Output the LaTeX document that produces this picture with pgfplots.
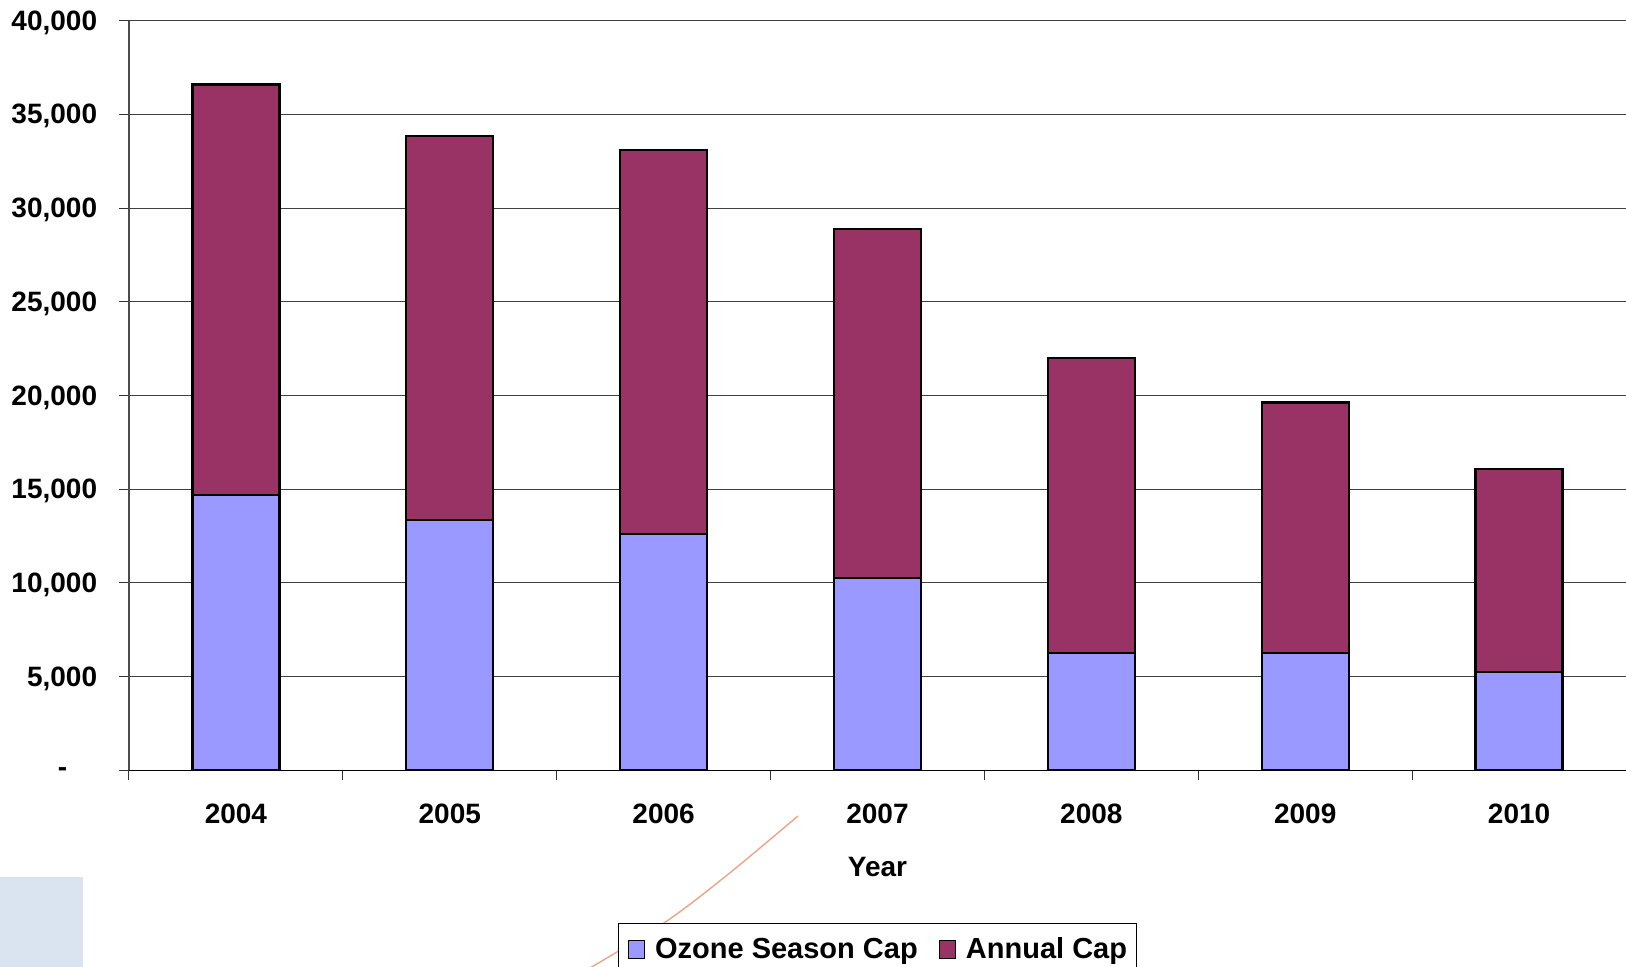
\documentclass[border=0pt]{standalone}
\usepackage{pgfplots}
\pgfplotsset{compat=1.18}
\usepackage{fontspec}
\setmainfont{Liberation Sans}
\definecolor{ozone}{HTML}{9999FF}
\definecolor{annual}{HTML}{993366}
\definecolor{deco}{HTML}{DAE3F0}
\definecolor{curvecol}{HTML}{E9A58A}
\pgfplotstableread{
x ozone annual
0 14710 21880
1 13350 20500
2 12620 20480
3 10270 18615
4 6250 15730
5 6250 13375
6 5230 10855
}\datatable
\begin{document}
\begin{tikzpicture}
\useasboundingbox (-64.5pt,-98.35pt) rectangle (748.5pt,385.15pt);
\fill[deco] (-64.5pt,-53.35pt) rectangle (-23pt,-98.35pt);
\draw[curvecol, line width=0.7pt] plot[smooth] coordinates {(334.5pt,-22.85pt) (298.5pt,-52.85pt) (267.5pt,-76.35pt) (228.5pt,-100pt)};
\begin{axis}[
  at={(0pt,0pt)}, anchor=south west,
  scale only axis, width=748.5pt, height=374.8pt,
  xmin=-0.5, xmax=6.5, ymin=0, ymax=40000,
  ybar stacked, bar width=43.5pt,
  axis x line=bottom, axis y line=left,
  axis line style={-},
  x axis line style={black, line width=0.7pt},
  y axis line style={black!70, line width=0.7pt},
  tick align=outside,
  major tick length=4.75pt,
  tick style={black!80, line width=0.5pt},
  xtick={-0.5,0.5,...,5.5}, xticklabels={},
  extra x ticks={0,1,2,3,4,5,6},
  extra x tick labels={2004,2005,2006,2007,2008,2009,2010},
  extra x tick style={major tick length=0pt, grid=none},
  xticklabel style={font=\fontsize{14}{16}\selectfont\bfseries, inner sep=0pt, anchor=north, yshift=-16.5pt},
  ytick={0,5000,...,40000},
  yticklabels={{-\kern15pt},{5,000},{10,000},{15,000},{20,000},{25,000},{30,000},{35,000},{40,000}},
  yticklabel style={font=\fontsize{14}{16}\selectfont\bfseries, inner sep=0pt, anchor=east, xshift=-11pt, yshift=-1pt},
  ymajorgrids, major grid style={black!75, line width=0.5pt},
  xlabel={Year},
  xlabel style={font=\fontsize{14}{16}\selectfont\bfseries, at={(axis description cs:0.5,0)}, anchor=center, yshift=-48.35pt},
  legend columns=2,
  legend style={at={(axis description cs:0.5,-0.2037)}, anchor=north, draw=black, line width=0.5pt,
    font=\fontsize{14.5}{17}\selectfont\bfseries, inner xsep=4.5pt, inner ysep=5pt,
    nodes={inner xsep=0pt, inner ysep=2pt},
    /tikz/every odd column/.append style={column sep=5pt},
    /tikz/every even column/.append style={column sep=10.5pt}},
  legend image code/.code={\draw[#1, line width=0.6pt] (0pt,-4.5pt) rectangle (8pt,4.5pt);},
]
\addplot[fill=ozone, draw=black, line width=1.1pt] table[x=x, y=ozone] {\datatable};
\addplot[fill=annual, draw=black, line width=1.1pt] table[x=x, y=annual] {\datatable};
\legend{Ozone Season Cap, Annual Cap}
\end{axis}
\end{tikzpicture}
\end{document}
